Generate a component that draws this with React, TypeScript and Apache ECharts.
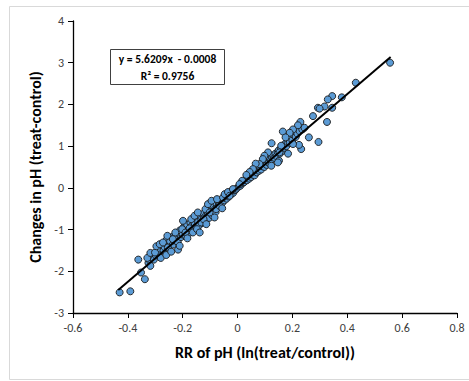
import React, { useEffect, useRef } from "react";
import * as echarts from "echarts";

const xTicks = [-0.6, -0.4, -0.2, 0, 0.2, 0.4, 0.6, 0.8];
const yTicks = [-3, -2, -1, 0, 1, 2, 3, 4];
const slope = 5.6209;
const intercept = -0.0008;
const r2 = 0.9756;
const trendX = [-0.435, 0.558];

const sparsePoints: [number, number][] = [
  [-0.430, -2.506], [-0.391, -2.48], [-0.338, -2.19], [-0.352, -2.03], [-0.362, -1.72],
  [-0.318, -1.87], [-0.329, -1.68], [-0.318, -1.56], [-0.301, -1.55], [-0.296, -1.40],
  [-0.280, -1.68], [-0.284, -1.35], [-0.272, -1.31], [-0.260, -1.61], [-0.254, -1.43],
  [-0.256, -1.15], [-0.242, -1.53], [-0.236, -1.23], [-0.227, -1.07], [-0.217, -1.48],
  [-0.211, -1.39], [-0.202, -0.99], [-0.199, -0.79], [-0.190, -1.07], [-0.183, -1.21],
  [-0.175, -0.97], [-0.169, -0.75], [-0.163, -1.07], [-0.157, -0.67], [-0.148, -0.99],
  [-0.145, -0.59], [-0.138, -1.07], [-0.132, -0.83], [-0.124, -0.75], [-0.117, -0.51],
  [-0.108, -0.39], [-0.114, -0.87], [-0.102, -0.59], [-0.095, -0.31], [-0.084, -0.71],
  [-0.078, -0.51], [-0.075, -0.27], [-0.066, -0.43], [-0.056, -0.49], [-0.053, -0.23],
  [-0.047, -0.15], [-0.035, -0.10], [-0.029, -0.19], [-0.017, -0.03],
  [0.556, 3.00], [0.431, 2.52], [0.380, 2.17], [0.345, 2.20], [0.329, 2.12],
  [0.317, 1.95], [0.345, 1.92], [0.293, 1.92], [0.299, 1.90], [0.326, 1.58],
  [0.295, 1.10], [0.275, 1.72], [0.260, 1.21], [0.232, 0.93], [0.224, 1.03],
  [0.229, 1.58], [0.244, 1.44], [0.220, 1.50], [0.202, 1.40], [0.190, 1.32],
  [0.202, 1.05], [0.184, 0.82], [0.165, 1.35], [0.175, 1.21], [0.159, 1.01],
  [0.151, 0.65], [0.153, 0.85], [0.147, 0.61], [0.124, 1.07], [0.123, 0.53],
  [0.111, 0.85], [0.098, 0.77], [0.092, 0.69], [0.080, 0.57], [0.066, 0.58],
  [0.056, 0.45], [0.044, 0.38], [0.032, 0.31], [0.017, 0.17], [0.007, 0.09],
];

const densePoints: [number, number][] = [
  [-0.325, -1.80], [-0.320, -1.74], [-0.312, -1.66], [-0.308, -1.58], [-0.305, -1.72],
  [-0.298, -1.62], [-0.292, -1.52], [-0.288, -1.58], [-0.282, -1.46], [-0.276, -1.38],
  [-0.270, -1.50], [-0.266, -1.42], [-0.262, -1.33], [-0.258, -1.24], [-0.250, -1.38],
  [-0.246, -1.28], [-0.240, -1.18], [-0.236, -1.36], [-0.232, -1.26], [-0.226, -1.14],
  [-0.222, -1.22], [-0.218, -1.30], [-0.214, -1.10], [-0.210, -1.02], [-0.206, -1.18],
  [-0.200, -1.12], [-0.196, -0.94], [-0.192, -1.04], [-0.188, -1.16], [-0.184, -0.88],
  [-0.180, -1.00], [-0.176, -1.08], [-0.172, -0.84], [-0.168, -0.92], [-0.164, -1.00],
  [-0.160, -0.78], [-0.156, -0.86], [-0.152, -0.94], [-0.148, -0.72], [-0.144, -0.82],
  [-0.140, -0.90], [-0.136, -0.68], [-0.132, -0.76], [-0.128, -0.84], [-0.124, -0.62],
  [-0.120, -0.70], [-0.116, -0.78], [-0.112, -0.56], [-0.108, -0.64], [-0.104, -0.72],
  [-0.100, -0.50], [-0.096, -0.58], [-0.092, -0.66], [-0.088, -0.46], [-0.084, -0.52],
  [-0.080, -0.58], [-0.076, -0.40], [-0.072, -0.46], [-0.068, -0.36], [-0.064, -0.40],
  [-0.060, -0.32], [-0.056, -0.36], [-0.052, -0.28], [-0.048, -0.30], [-0.044, -0.22],
  [-0.040, -0.26], [-0.036, -0.18], [-0.032, -0.21], [-0.028, -0.14], [-0.024, -0.16],
  [-0.020, -0.10], [-0.016, -0.12], [-0.012, -0.06], [-0.008, -0.05], [-0.004, -0.02],
  [0.004, 0.03], [0.010, 0.05], [0.014, 0.10], [0.020, 0.12], [0.024, 0.14],
  [0.028, 0.19], [0.034, 0.18], [0.038, 0.24], [0.042, 0.22], [0.046, 0.29],
  [0.050, 0.26], [0.054, 0.32], [0.058, 0.35], [0.062, 0.30], [0.066, 0.40],
  [0.070, 0.37], [0.074, 0.44], [0.078, 0.41], [0.082, 0.48], [0.086, 0.44],
  [0.090, 0.52], [0.094, 0.56], [0.098, 0.50], [0.102, 0.60], [0.106, 0.55],
  [0.110, 0.64], [0.114, 0.60], [0.118, 0.70], [0.122, 0.66], [0.126, 0.74],
  [0.130, 0.78], [0.134, 0.72], [0.138, 0.82], [0.142, 0.76], [0.146, 0.86],
  [0.150, 0.90], [0.154, 0.82], [0.158, 0.94], [0.162, 0.88], [0.166, 1.00],
  [0.170, 0.96], [0.174, 1.06], [0.178, 1.00], [0.182, 1.10], [0.186, 1.16],
  [0.190, 1.08], [0.196, 1.20], [0.200, 1.14], [0.206, 1.26], [0.212, 1.22],
  [0.218, 1.30], [0.226, 1.36], [0.236, 1.40],
];

const FONT = "Carlito, Lato, 'Open Sans', sans-serif";

export default function App() {
  const ref = useRef<HTMLDivElement>(null);
  useEffect(() => {
    if (!ref.current) return;
    const chart = echarts.init(ref.current, undefined, { renderer: "svg" });
    const trendData = trendX.map((x) => [x, slope * x + intercept]);
    const eq1 = `y = ${slope.toFixed(4)}x  - ${Math.abs(intercept).toFixed(4)}`;
    const eq2 = `R² = ${r2.toFixed(4)}`;
    chart.setOption({
      animation: false,
      textStyle: { fontFamily: FONT },
      grid: { left: 73, right: 12, top: 21, bottom: 68 },
      xAxis: {
        type: "value",
        min: xTicks[0],
        max: xTicks[xTicks.length - 1],
        interval: 0.2,
        name: "RR of pH (ln(treat/control))",
        nameLocation: "middle",
        nameGap: 31,
        nameTextStyle: { fontFamily: FONT, fontSize: 16, fontWeight: "bold", color: "#000" },
        axisLine: { onZero: false, lineStyle: { color: "#000", width: 1.3 } },
        axisTick: { show: true, inside: false, length: 5, lineStyle: { color: "#000" } },
        axisLabel: {
          fontFamily: FONT, fontSize: 12, color: "#404040", margin: 9,
          formatter: (v: number) => String(Math.round(v * 10) / 10),
        },
        splitLine: { show: false },
      },
      yAxis: {
        type: "value",
        min: yTicks[0],
        max: yTicks[yTicks.length - 1],
        interval: 1,
        name: "Changes in pH (treat-control)",
        nameLocation: "middle",
        nameGap: 22,
        nameTextStyle: { fontFamily: FONT, fontSize: 16, fontWeight: "bold", color: "#000" },
        axisLine: { onZero: false, lineStyle: { color: "#000", width: 1.3 } },
        axisTick: { show: true, inside: false, length: 5, lineStyle: { color: "#000" } },
        axisLabel: { fontFamily: FONT, fontSize: 12, color: "#404040", margin: 9 },
        splitLine: { show: false },
      },
      series: [
        {
          type: "scatter",
          data: [...densePoints, ...sparsePoints],
          symbolSize: 7,
          itemStyle: { color: "#5B9BD5", borderColor: "#1a1a1a", borderWidth: 0.9, opacity: 1 },
          z: 2,
        },
        {
          type: "line",
          data: trendData,
          showSymbol: false,
          symbol: "none",
          lineStyle: { color: "#000", width: 2 },
          z: 3,
        },
      ],
      graphic: [
        {
          type: "rect",
          shape: { x: 9.5, y: 6.5, width: 470, height: 373 },
          style: { fill: "none", stroke: "#d9d9d9", lineWidth: 1 },
          silent: true,
        },
        {
          type: "rect",
          shape: { x: 110.5, y: 49.5, width: 114, height: 35 },
          style: { fill: "#fff", stroke: "#404040", lineWidth: 1 },
          z: 10,
        },
        {
          type: "text",
          x: 167.5,
          y: 59,
          z: 11,
          style: {
            text: eq1, fontFamily: FONT, fontSize: 11.5, fontWeight: "bold", fill: "#000",
            align: "center", verticalAlign: "middle",
          },
        },
        {
          type: "text",
          x: 167.5,
          y: 76,
          z: 11,
          style: {
            text: eq2, fontFamily: FONT, fontSize: 11.5, fontWeight: "bold", fill: "#000",
            align: "center", verticalAlign: "middle",
          },
        },
      ],
    });
    return () => chart.dispose();
  }, []);
  return (
    <div
      ref={ref}
      style={{ width: 469, height: 381, position: "absolute", left: 0, top: 0 }}
    />
  );
}
